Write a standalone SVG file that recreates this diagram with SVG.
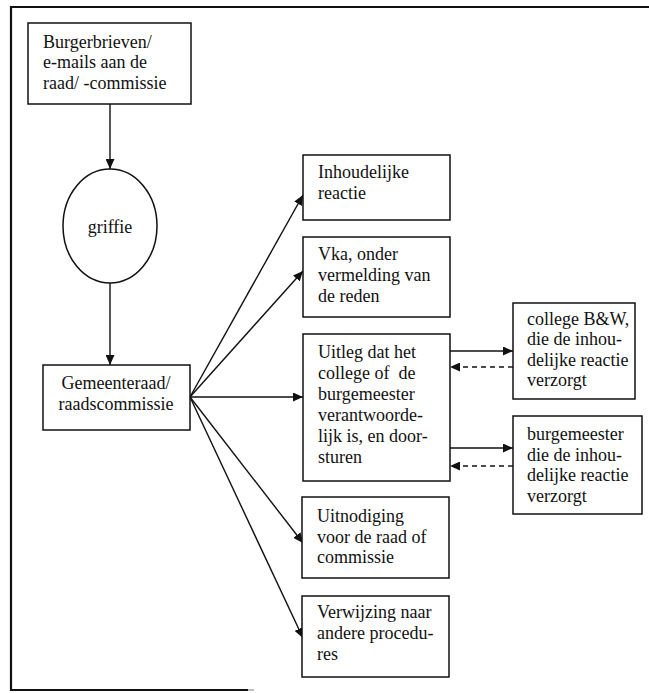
<svg xmlns="http://www.w3.org/2000/svg" width="649" height="693" viewBox="0 0 649 693">
<style>
.box{fill:#fff;stroke:#111;stroke-width:1.5}
text{font-family:'Liberation Serif','Times New Roman',Times,serif;font-size:18px;fill:#111;white-space:pre}
.c{stroke:#111;stroke-width:1.4;fill:none}
.d{stroke-dasharray:5,4}
.frame{stroke:#111;stroke-width:2.2;fill:none}
</style>
<defs>
<marker id="ah" markerUnits="userSpaceOnUse" markerWidth="11" markerHeight="9" refX="10" refY="4.5" orient="auto">
<path d="M0,0 L10,4.5 L0,9 z" fill="#111"/>
</marker>
</defs>
<rect width="649" height="693" fill="#fff"/>
<g id="frame">
<line class="frame" x1="11" y1="7" x2="649" y2="7"/>
<line class="frame" x1="11" y1="6" x2="11" y2="691"/>
<line class="frame" x1="10" y1="690" x2="248" y2="690"/>
<line x1="248" y1="690" x2="254" y2="690" stroke="#aaa" stroke-width="1.5"/>
</g>
<g id="connectors">
<line class="c" x1="110" y1="104" x2="110" y2="169" marker-end="url(#ah)"/>
<line class="c" x1="110" y1="283" x2="110" y2="365" marker-end="url(#ah)"/>
<line class="c" x1="190" y1="397" x2="303" y2="195" marker-end="url(#ah)"/>
<line class="c" x1="190" y1="397" x2="303" y2="271" marker-end="url(#ah)"/>
<line class="c" x1="190" y1="397" x2="303" y2="397" marker-end="url(#ah)"/>
<line class="c" x1="190" y1="397" x2="303" y2="543" marker-end="url(#ah)"/>
<line class="c" x1="190" y1="397" x2="303" y2="638" marker-end="url(#ah)"/>
<line class="c" x1="450" y1="351" x2="513" y2="351" marker-end="url(#ah)"/>
<line class="c d" x1="513" y1="367" x2="450" y2="367" marker-end="url(#ah)"/>
<line class="c" x1="450" y1="448" x2="513" y2="448" marker-end="url(#ah)"/>
<line class="c d" x1="513" y1="466" x2="450" y2="466" marker-end="url(#ah)"/>
</g>
<g id="burgerbrieven">
<rect class="box" x="28" y="23" width="163" height="81"/>
<text x="43" y="48">Burgerbrieven/</text>
<text x="43" y="68">e-mails aan de</text>
<text x="43" y="89">raad/ -commissie</text>
</g>
<g id="griffie">
<ellipse class="box" cx="110" cy="226" rx="47" ry="57"/>
<text x="110" y="233" text-anchor="middle">griffie</text>
</g>
<g id="gemeenteraad">
<rect class="box" x="43" y="365" width="147" height="65"/>
<text x="116" y="389" text-anchor="middle">Gemeenteraad/</text>
<text x="116" y="410" text-anchor="middle">raadscommissie</text>
</g>
<g id="inhoudelijke">
<rect class="box" x="303" y="155" width="147" height="65"/>
<text x="318" y="178">Inhoudelijke</text>
<text x="318" y="199">reactie</text>
</g>
<g id="vka">
<rect class="box" x="303" y="237" width="147" height="80"/>
<text x="318" y="260">Vka, onder</text>
<text x="318" y="281">vermelding van</text>
<text x="318" y="302">de reden</text>
</g>
<g id="uitleg">
<rect class="box" x="303" y="334" width="147" height="147"/>
<text x="318" y="358">Uitleg dat het</text>
<text x="318" y="379">college of  de</text>
<text x="318" y="400">burgemeester</text>
<text x="318" y="421">verantwoorde-</text>
<text x="318" y="442">lijk is, en door-</text>
<text x="318" y="463">sturen</text>
</g>
<g id="uitnodiging">
<rect class="box" x="302" y="497" width="147" height="81"/>
<text x="317" y="522">Uitnodiging</text>
<text x="317" y="543">voor de raad of</text>
<text x="317" y="563">commissie</text>
</g>
<g id="verwijzing">
<rect class="box" x="302" y="596" width="147" height="81"/>
<text x="317" y="618">Verwijzing naar</text>
<text x="317" y="639">andere procedu-</text>
<text x="317" y="660">res</text>
</g>
<g id="college">
<rect class="box" x="513" y="303" width="122" height="96"/>
<text x="527" y="325">college B&amp;W,</text>
<text x="527" y="345">die de inhou-</text>
<text x="527" y="366">delijke reactie</text>
<text x="527" y="386">verzorgt</text>
</g>
<g id="burgemeester">
<rect class="box" x="513" y="416" width="129" height="98"/>
<text x="527" y="440">burgemeester</text>
<text x="527" y="461">die de inhou-</text>
<text x="527" y="481">delijke reactie</text>
<text x="527" y="502">verzorgt</text>
</g>
</svg>
